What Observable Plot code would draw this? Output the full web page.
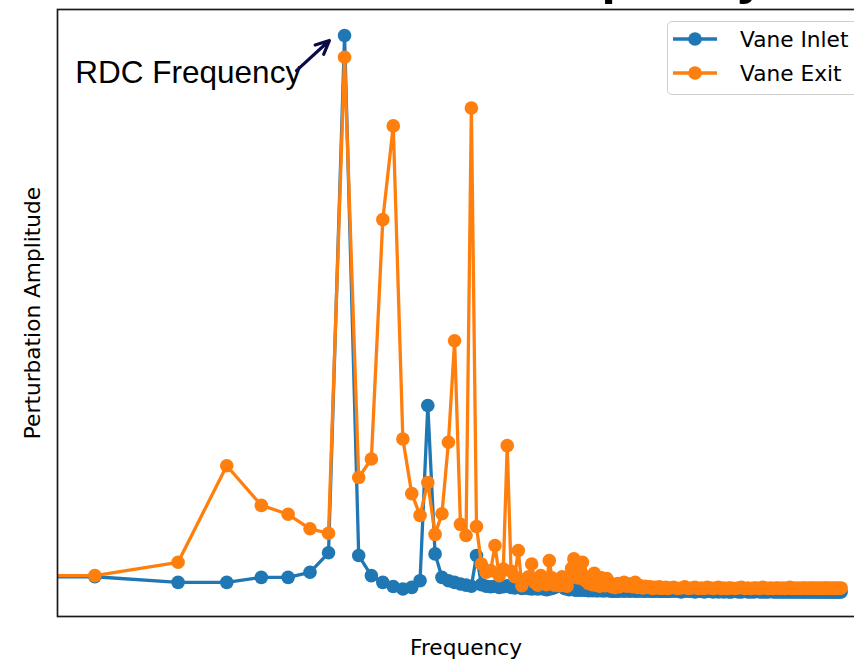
<!DOCTYPE html>
<html>
<head>
<meta charset="utf-8">
<script src="https://cdn.jsdelivr.net/npm/d3@7"></script>
<script src="https://cdn.jsdelivr.net/npm/@observablehq/plot@0.6"></script>
<style>
  html, body { margin: 0; padding: 0; background: #fff; overflow: hidden; }
  #wrap { position: relative; width: 854px; height: 660px; overflow: hidden; }
  #chart { width: 878px; }
  #chart svg { display: block; max-width: none !important; width: 878px !important; height: 660px !important; }
  #title { position: absolute; left: 503px; top: -51px; font: bold 52px "Liberation Sans", Arial, sans-serif;
           line-height: 52px; white-space: nowrap; color: #000; }
  #legend { position: absolute; left: 667px; top: 21px; width: 220px; height: 74px; box-sizing: border-box;
            border: 1.5px solid #cfcfcf; border-radius: 5px; background: rgba(255,255,255,0.8);
            font: 21.7px "DejaVu Sans", sans-serif; color: #000; }
  .row { position: absolute; left: 0; height: 30px; display: flex; align-items: center; white-space: nowrap; }
  .row svg { width: 72px; height: 30px; flex: none; }
</style>
</head>
<body>
<div id="wrap">
  <div id="chart"></div>
  <div id="title">Frequency</div>
  <div id="legend"></div>
</div>
<script>
// Harmonic index (frequency) grid, low part read point by point
const freqLow = [0,1,2,3,4,5,6,7,8,9,10,11,12,13,14,15,16,17,18,19,20,21,22,23,24,25,26,27,28,29,
  30,31,32,33,34,35,36,37,38,39,40,41,42,43,44,45,46,47,48,49,50,51,52,53,54,55,56,57,58,59,
  60,61,62,63,64,65,66,67,68,69,70,71,72,73,74,75,76,77,78,79];
// Dense tail (markers overlap into a band), sampled
const freqTail = [80,82,84,86,88,90,92,94,96,98,100,102,104,106,108,110,112,114,116,118,
  120,124,128,132,136,140,144,148,152,156,160,164,168,172,176,180,184,188,192,196,
  200,206,212,218,224,230,236,242,248,254,260,266,272,278,284,290,296,302,308,314,320,326,332,338,344,350,
  356,362,368,374,380,386,392,398,404,410,416,422,428,434,440,446,452,458,464,470,476,482,488,494,500];

// Perturbation amplitude (peak of Vane Inlet = 100)
const inletLow = [3.0,3.0,2.0,2.0,2.9,2.9,3.8,7.3,100,6.8,3.2,2.0,1.25,0.8,1.1,2.3,33.7,7.1,2.9,2.3,
  2.0,1.7,1.5,1.3,6.8,1.6,1.3,1.2,1.3,1.1,1.2,1.4,1.1,1.0,1.2,0.9,1.0,0.9,0.8,0.9,
  0.8,0.9,0.8,0.7,0.8,0.9,1.1,1.3,1.5,1.2,0.9,0.8,0.7,0.8,0.7,0.6,0.7,0.6,0.7,0.6,
  0.6,0.5,0.6,0.5,0.6,0.5,0.5,0.6,0.5,0.5,0.5,0.6,0.5,0.5,0.4,0.5,0.4,0.5,0.4,0.5];
const inletTail = [0.5,0.4,0.5,0.4,0.5,0.4,0.4,0.5,0.4,0.4,0.5,0.4,0.4,0.4,0.5,0.4,0.4,0.4,0.4,0.4,
  0.4,0.4,0.4,0.3,0.4,0.4,0.4,0.3,0.4,0.4,0.3,0.4,0.4,0.3,0.4,0.3,0.4,0.3,0.4,0.3,
  0.3,0.4,0.3,0.3,0.4,0.3,0.3,0.3,0.4,0.3,0.3,0.3,0.3,0.4,0.3,0.3,0.3,0.3,0.3,0.3,0.3,0.3,0.3,0.3,0.3,0.3,
  0.3,0.3,0.3,0.3,0.3,0.3,0.3,0.3,0.3,0.3,0.3,0.3,0.3,0.3,0.3,0.3,0.3,0.3,0.3,0.3,0.3,0.3,0.3,0.3,0.3];

const exitLow = [3.2,3.2,5.6,22.9,15.8,14.2,11.6,10.8,96.1,20.8,24.1,67.0,83.8,27.7,17.9,14.0,19.9,10.6,14.3,27.1,
  45.3,12.4,10.4,87.0,12.0,5.3,3.8,4.1,8.6,3.2,4.4,26.5,4.0,3.0,7.7,1.4,2.5,3.0,5.3,2.0,
  1.5,3.2,2.2,1.6,5.9,2.8,1.5,2.4,1.4,3.0,1.8,1.3,2.6,4.5,6.2,5.0,2.8,4.4,5.6,2.4,
  3.0,1.8,2.6,1.6,3.6,1.5,2.2,1.3,2.8,1.7,1.4,2.7,1.5,1.9,1.2,1.6,1.1,1.4,1.8,1.2];
const exitTail = [1.5,2.0,1.3,1.7,1.2,2.0,1.1,1.4,1.0,1.3,1.1,1.2,0.9,1.1,1.0,1.2,0.9,1.0,1.1,0.9,
  1.0,1.1,0.9,1.0,1.2,0.9,1.0,1.1,0.9,1.0,0.9,1.1,1.0,0.9,1.0,1.1,0.9,1.0,0.9,1.0,
  1.0,0.9,1.0,1.1,0.9,1.0,0.9,1.0,1.0,0.9,1.1,1.0,0.9,1.0,0.9,1.0,1.0,0.9,1.0,0.9,1.0,1.1,0.9,1.0,0.9,1.0,
  0.9,1.0,1.0,0.9,1.0,0.9,1.0,1.0,0.9,1.0,0.9,1.0,0.9,1.0,1.0,0.9,1.0,0.9,1.0,0.9,1.0,0.9,1.0,0.9,1.0];

const seriesNames = ["Vane Inlet", "Vane Exit"];
const seriesColors = ["#1f77b4", "#ff7f0e"];

// Annotation (data coordinates)
const rdcText = {label: "RDC Frequency", f: 0.85, v: 91.4};
const rdcArrow = {f1: 5.36, v1: 93.7, f2: 7.05, v2: 99.1};

const freq = freqLow.concat(freqTail);
function rows(vals) {
  return vals.map((v, i) => ({f: freq[i], v}));
}
const inlet = rows(inletLow.concat(inletTail));
const exit = rows(exitLow.concat(exitTail));
// matplotlib clips f = 0 on a log axis to the far left
const xf = d => (d.f > 0 ? d.f : 1e-3);

function seriesMarks(data, color) {
  return [
    Plot.line(data, {x: xf, y: "v", stroke: color, strokeWidth: 3.3, clip: true}),
    Plot.dot(data.filter(d => d.f > 0), {x: "f", y: "v", r: 6.8, fill: color, stroke: "none", clip: true})
  ];
}

const chart = Plot.plot({
  width: 878,
  height: 660,
  marginLeft: 57,
  marginRight: 0,
  marginTop: 9,
  marginBottom: 44,
  style: {background: "transparent", overflow: "visible", maxWidth: "none"},
  x: {type: "log", domain: [Math.pow(10, -0.135), Math.pow(10, 2.834)], axis: null},
  y: {domain: [-4.12, 104.66], axis: null},
  marks: [
    ...seriesMarks(inlet, seriesColors[0]),
    ...seriesMarks(exit, seriesColors[1]),
    Plot.frame({stroke: "#1a1a1a", strokeWidth: 1.7}),
    Plot.text(["Frequency"], {text: d => d, frameAnchor: "bottom", dx: -2, dy: 38, fontSize: 21.7,
      fontFamily: "DejaVu Sans", fill: "#000"}),
    Plot.text(["Perturbation Amplitude"], {text: d => d, frameAnchor: "left", textAnchor: "middle",
      rotate: -90, dx: -24, fontSize: 21.7, fontFamily: "DejaVu Sans", fill: "#000"}),
    Plot.text([rdcText], {x: "f", y: "v", text: "label", textAnchor: "start", lineAnchor: "bottom",
      fontSize: 31.5, fontFamily: "Liberation Sans, Arial, sans-serif", fill: "#000"}),
    Plot.arrow([rdcArrow], {x1: "f1", y1: "v1", x2: "f2", y2: "v2", stroke: "#0b0b45",
      strokeWidth: 3.2, headLength: 14, headAngle: 50})
  ]
});
document.getElementById("chart").appendChild(chart);

// Legend
const legend = document.getElementById("legend");
seriesNames.forEach((name, i) => {
  const row = document.createElement("div");
  row.className = "row";
  row.style.top = (2 + i * 34) + "px";
  row.innerHTML = `<svg viewBox="0 0 72 30"><line x1="5" y1="15" x2="49" y2="15" stroke="${seriesColors[i]}" stroke-width="3.3"/>` +
    `<circle cx="27" cy="15" r="6.8" fill="${seriesColors[i]}"/></svg><span>${name}</span>`;
  legend.appendChild(row);
});
</script>
</body>
</html>
